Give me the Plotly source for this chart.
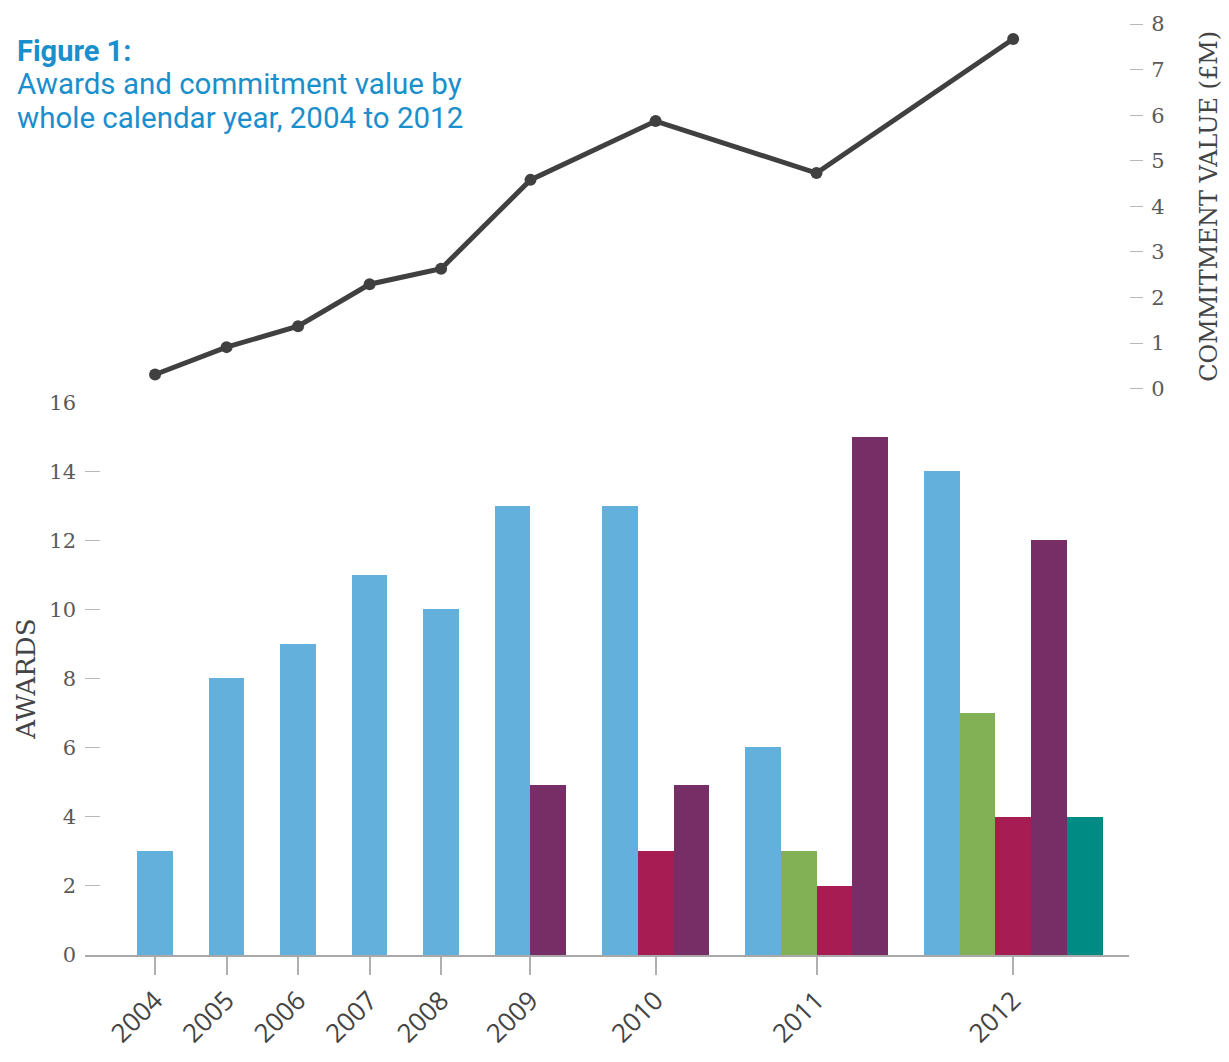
import plotly.graph_objects as go

# ---------------- data ----------------
years = ["2004", "2005", "2006", "2007", "2008", "2009", "2010", "2011", "2012"]
series_names = ["Series A", "Series B", "Series C", "Series D", "Series E"]
awards_a = [3, 8, 9, 11, 10, 13, 13, 6, 14]
awards_b = [0, 0, 0, 0, 0, 0, 0, 3, 7]
awards_c = [0, 0, 0, 0, 0, 0, 3, 2, 4]
awards_d = [0, 0, 0, 0, 0, 4.9, 4.9, 15, 12]
awards_e = [0, 0, 0, 0, 0, 0, 0, 0, 4]
commitment = [0.31, 0.91, 1.37, 2.29, 2.63, 4.58, 5.87, 4.73, 7.67]

awards_ticks = [0, 2, 4, 6, 8, 10, 12, 14, 16]
value_ticks = [0, 1, 2, 3, 4, 5, 6, 7, 8]

colors = ["#64b0dc", "#82b055", "#a71c52", "#772d66", "#008b85"]
all_series = [awards_a, awards_b, awards_c, awards_d, awards_e]

# ---------------- layout of bars (variable-width groups) ----------------
bar_x = [[] for _ in all_series]
bar_y = [[] for _ in all_series]
group_centres = []
cursor = 0
for i, yr in enumerate(years):
    pos = []
    for s, vals in enumerate(all_series):
        if vals[i] > 0:
            bar_x[s].append(cursor)
            bar_y[s].append(vals[i])
            pos.append(cursor)
            cursor += 1
    group_centres.append(sum(pos) / len(pos))
    cursor += 1  # gap between year groups

fig = go.Figure()
for s in range(len(all_series)):
    fig.add_trace(go.Bar(
        x=bar_x[s], y=bar_y[s], width=1, name=series_names[s],
        marker=dict(color=colors[s], line=dict(width=0)),
        xaxis="x", yaxis="y", showlegend=False,
    ))

fig.add_trace(go.Scatter(
    x=group_centres, y=commitment, mode="lines+markers",
    line=dict(color="#404040", width=5),
    marker=dict(color="#404040", size=12),
    xaxis="x", yaxis="y2", showlegend=False, name="Commitment value",
))

W, H = 1229, 1062
L, R, T, B = 85, 88, 20, 87
ph = H - T - B
pw = W - L - R

def py(pix):
    return (H - B - pix) / ph

def px(pix):
    return (pix - L) / pw

serif = "DejaVu Serif"
fig.update_layout(
    width=W, height=H,
    margin=dict(l=L, r=R, t=T, b=B),
    paper_bgcolor="white", plot_bgcolor="white",
    barmode="overlay",
    bargap=0,
    xaxis=dict(
        range=[-1.96, 27.24],
        tickmode="array", tickvals=group_centres, ticktext=years,
        tickangle=-45,
        ticks="outside", ticklen=18, tickwidth=1.5, tickcolor="#b0b0b0",
        showline=True, linecolor="#a8a8a8", linewidth=1.5,
        showgrid=False, zeroline=False,
        tickfont=dict(family="Open Sans", size=26, color="#444444"),
        fixedrange=True,
    ),
    yaxis=dict(
        domain=[0, py(408)],
        range=[0, 16],
        tickmode="array", tickvals=awards_ticks,
        ticks="inside", ticklen=15, tickwidth=1.2, tickcolor="#b8b8b8",
        showline=False, showgrid=False, zeroline=False,
        ticklabelstandoff=8,
        tickfont=dict(family=serif, size=21, color="#5a5a5a"),
        title=dict(text="AWARDS", font=dict(family=serif, size=26, color="#444444"), standoff=6),
        fixedrange=True,
    ),
    yaxis2=dict(
        domain=[py(394), 1.0],
        range=[0, 8],
        side="right", anchor="x",
        tickmode="array", tickvals=value_ticks,
        ticks="outside", ticklen=13, tickwidth=1.2, tickcolor="#b8b8b8",
        showline=False, showgrid=False, zeroline=False,
        ticklabelstandoff=4,
        tickfont=dict(family=serif, size=21, color="#5a5a5a"),
        title=dict(text="COMMITMENT VALUE (£M)", font=dict(family=serif, size=24, color="#444444"), standoff=36),
        fixedrange=True,
    ),
)

title_color = "#1a8fcc"
fig.add_annotation(text="<b>Figure 1:</b>", xref="paper", yref="paper",
                   x=px(14), y=py(48), xanchor="left", yanchor="middle", showarrow=False,
                   font=dict(family="Roboto", size=29, color=title_color))
fig.add_annotation(text="Awards and commitment value by", xref="paper", yref="paper",
                   x=px(14), y=py(82), xanchor="left", yanchor="middle", showarrow=False,
                   font=dict(family="Roboto", size=29.5, color=title_color))
fig.add_annotation(text="whole calendar year, 2004 to 2012", xref="paper", yref="paper",
                   x=px(14), y=py(116), xanchor="left", yanchor="middle", showarrow=False,
                   font=dict(family="Roboto", size=29.5, color=title_color))

fig.write_html(
    "out.html",
    config={"displayModeBar": False},
    post_script="document.body.style.margin='0';document.body.style.overflow='hidden';",
)
